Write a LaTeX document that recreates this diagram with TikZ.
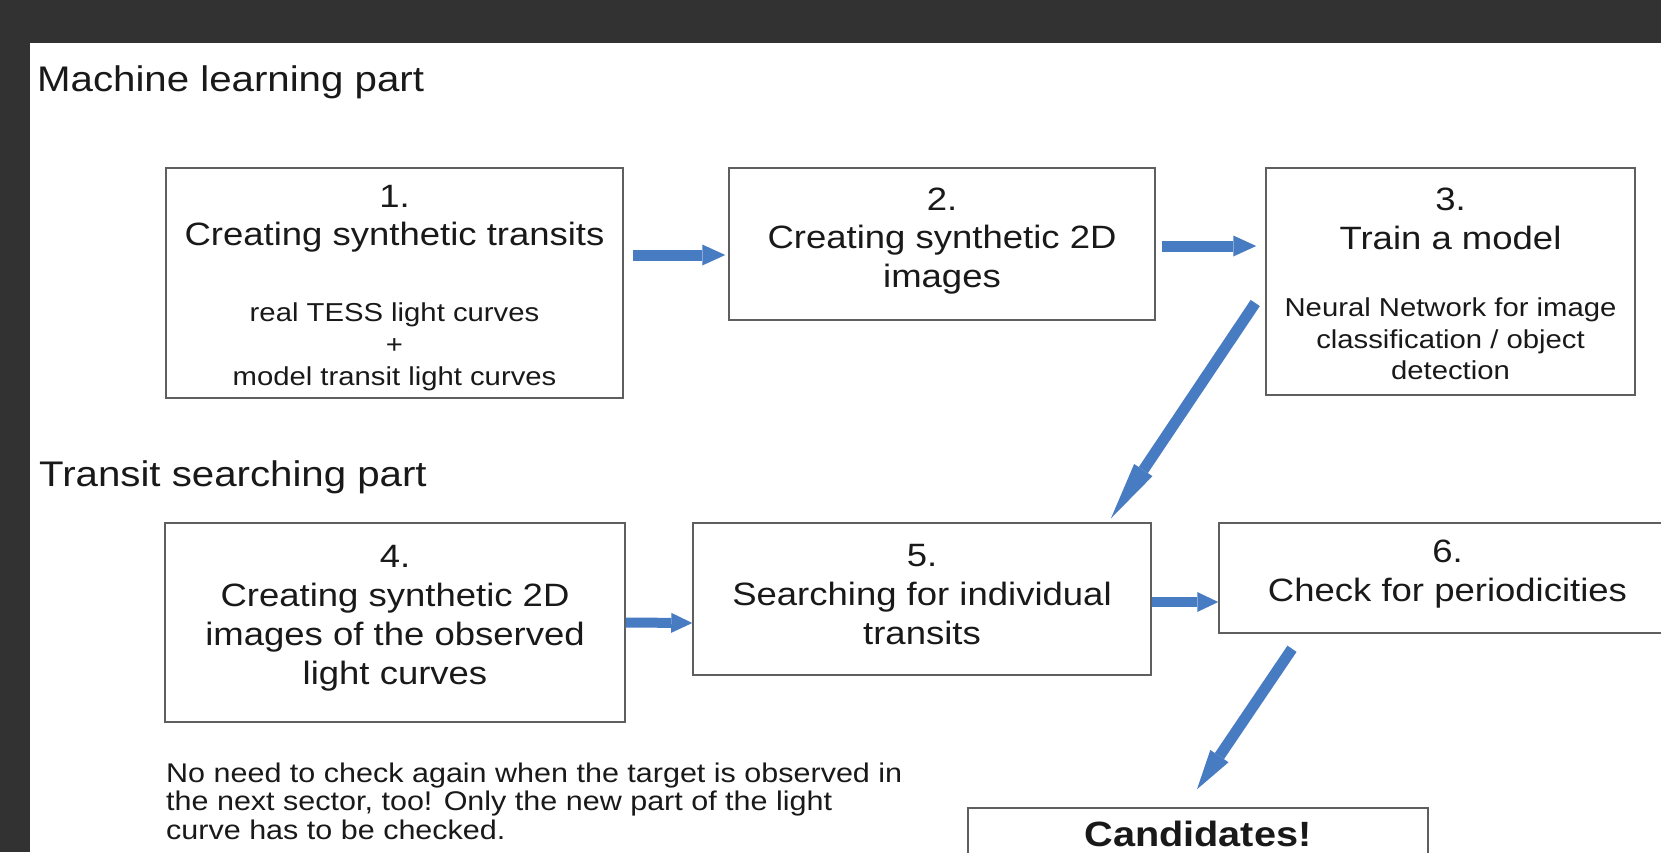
\documentclass[tikz,border=0pt]{standalone}
\usepackage{fontspec}
\setmainfont[FakeStretch=1.13]{Liberation Sans}
\usetikzlibrary{arrows.meta}

\definecolor{framegray}{RGB}{50,50,50}
\definecolor{boxline}{RGB}{95,95,95}
\definecolor{arrowblue}{RGB}{72,124,194}

\begin{document}
\begin{tikzpicture}[x=1pt, y=-1pt,
    stepbox/.style={draw=boxline, line width=1.5pt, fill=white, inner sep=0pt},
    head/.style={font=\fontsize{35.6}{41}\selectfont, anchor=base west, inner sep=0pt, text=black!90},
    bigtxt/.style={font=\fontsize{32.3}{38}\selectfont, anchor=base, inner sep=0pt, text=black!90},
    smalltxt/.style={font=\fontsize{25.9}{31}\selectfont, anchor=base, inner sep=0pt, text=black!90},
    notetxt/.style={font=\fontsize{27}{28.5}\selectfont, anchor=base west, inner sep=0pt, text=black!90},
    flow/.style n args={3}{draw=arrowblue, line width=#1, -{Triangle[length=#2, width=#3, line width=0pt]}}]

      \useasboundingbox (0,0) rectangle (1661,852);
      \clip (0,0) rectangle (1661,852);

      % dark frame round the slide
      \fill [framegray] (0,0) rectangle (1661,852);
      \fill [white] (30,43) rectangle (1661,852);

      \node [head] (mlhead) at (37,91.5) {Machine learning part};
      \node [head] (tshead) at (39,486) {Transit searching part};

      % step boxes
      \node [stepbox, minimum width=457pt, minimum height=230pt] (s1) at (394.5,283) {};
      \node [stepbox, minimum width=426pt, minimum height=152pt] (s2) at (942,244) {};
      \node [stepbox, minimum width=369pt, minimum height=227pt] (s3) at (1450.5,281.5) {};
      \node [stepbox, minimum width=460pt, minimum height=199pt] (s4) at (395,622.5) {};
      \node [stepbox, minimum width=458pt, minimum height=152pt] (s5) at (922,599) {};
      \node [stepbox, minimum width=457pt, minimum height=110pt] (s6) at (1447.5,578) {};
      \node [stepbox, minimum width=460pt, minimum height=92pt] (cand) at (1198,854) {};

      % 1.
      \node [bigtxt] (s1num) at (394.5,207) {1.};
      \node [bigtxt] (s1name) at (394.5,245) {Creating synthetic transits};
      \node [smalltxt] (s1a) at (394.5,321) {real TESS light curves};
      \node [smalltxt] (s1b) at (394.5,353) {+};
      \node [smalltxt] (s1c) at (394.5,385) {model transit light curves};

      % 2.
      \node [bigtxt] (s2num) at (942,210) {2.};
      \node [bigtxt] (s2name) at (942,248.5) {Creating synthetic 2D};
      \node [bigtxt] (s2namb) at (942,287) {images};

      % 3.
      \node [bigtxt] (s3num) at (1450.5,210) {3.};
      \node [bigtxt] (s3name) at (1450.5,249) {Train a model};
      \node [smalltxt] (s3a) at (1450.5,316) {Neural Network for image};
      \node [smalltxt] (s3b) at (1450.5,348) {classification / object};
      \node [smalltxt] (s3c) at (1450.5,379) {detection};

      % 4.
      \node [bigtxt] (s4num) at (395,567) {4.};
      \node [bigtxt] (s4name) at (395,606) {Creating synthetic 2D};
      \node [bigtxt] (s4namb) at (395,645) {images of the observed};
      \node [bigtxt] (s4namc) at (395,684) {light curves};

      % 5.
      \node [bigtxt] (s5num) at (922,566) {5.};
      \node [bigtxt] (s5name) at (922,605) {Searching for individual};
      \node [bigtxt] (s5namb) at (922,644) {transits};

      % 6.
      \node [bigtxt] (s6num) at (1447.5,562) {6.};
      \node [bigtxt] (s6name) at (1447.5,601.5) {Check for periodicities};

      \node [bigtxt, font=\fontsize{35.1}{41}\selectfont\bfseries] (candtxt) at (1198,846.5) {Candidates!};

      \node [notetxt] (note1) at (166,782) {No need to check again when the target is observed in};
      \node [notetxt] (note2) at (166,810.5) {the next sector, too! Only the new part of the light};
      \node [notetxt] (note3) at (166,839) {curve has to be checked.};

      % arrows
      \draw [flow={11pt}{23pt}{21pt}] ([xshift=9pt,yshift=28pt]s1.east) -- ([xshift=-3pt,yshift=-11pt]s2.west);
      \draw [flow={11pt}{23pt}{21pt}] ([xshift=6pt,yshift=-2pt]s2.east) -- ([xshift=-9pt,yshift=35.5pt]s3.west);
      \draw [flow={11pt}{58pt}{22pt}] ([xshift=-10pt,yshift=-21.5pt]s3.west) -- ([xshift=189pt,yshift=4pt]s5.north);
      \draw [flow={10pt}{21pt}{20pt}] (s4.east) -- ([yshift=-24pt]s5.west);
      \draw [flow={10pt}{21pt}{20pt}] ([yshift=-3pt]s5.east) -- ([yshift=-24pt]s6.west);
      \draw [flow={11pt}{40pt}{22pt}] ([xshift=-155.5pt,yshift=-15pt]s6.south) -- ([xshift=-1pt,yshift=18pt]cand.north);
    \end{tikzpicture}
\end{document}
